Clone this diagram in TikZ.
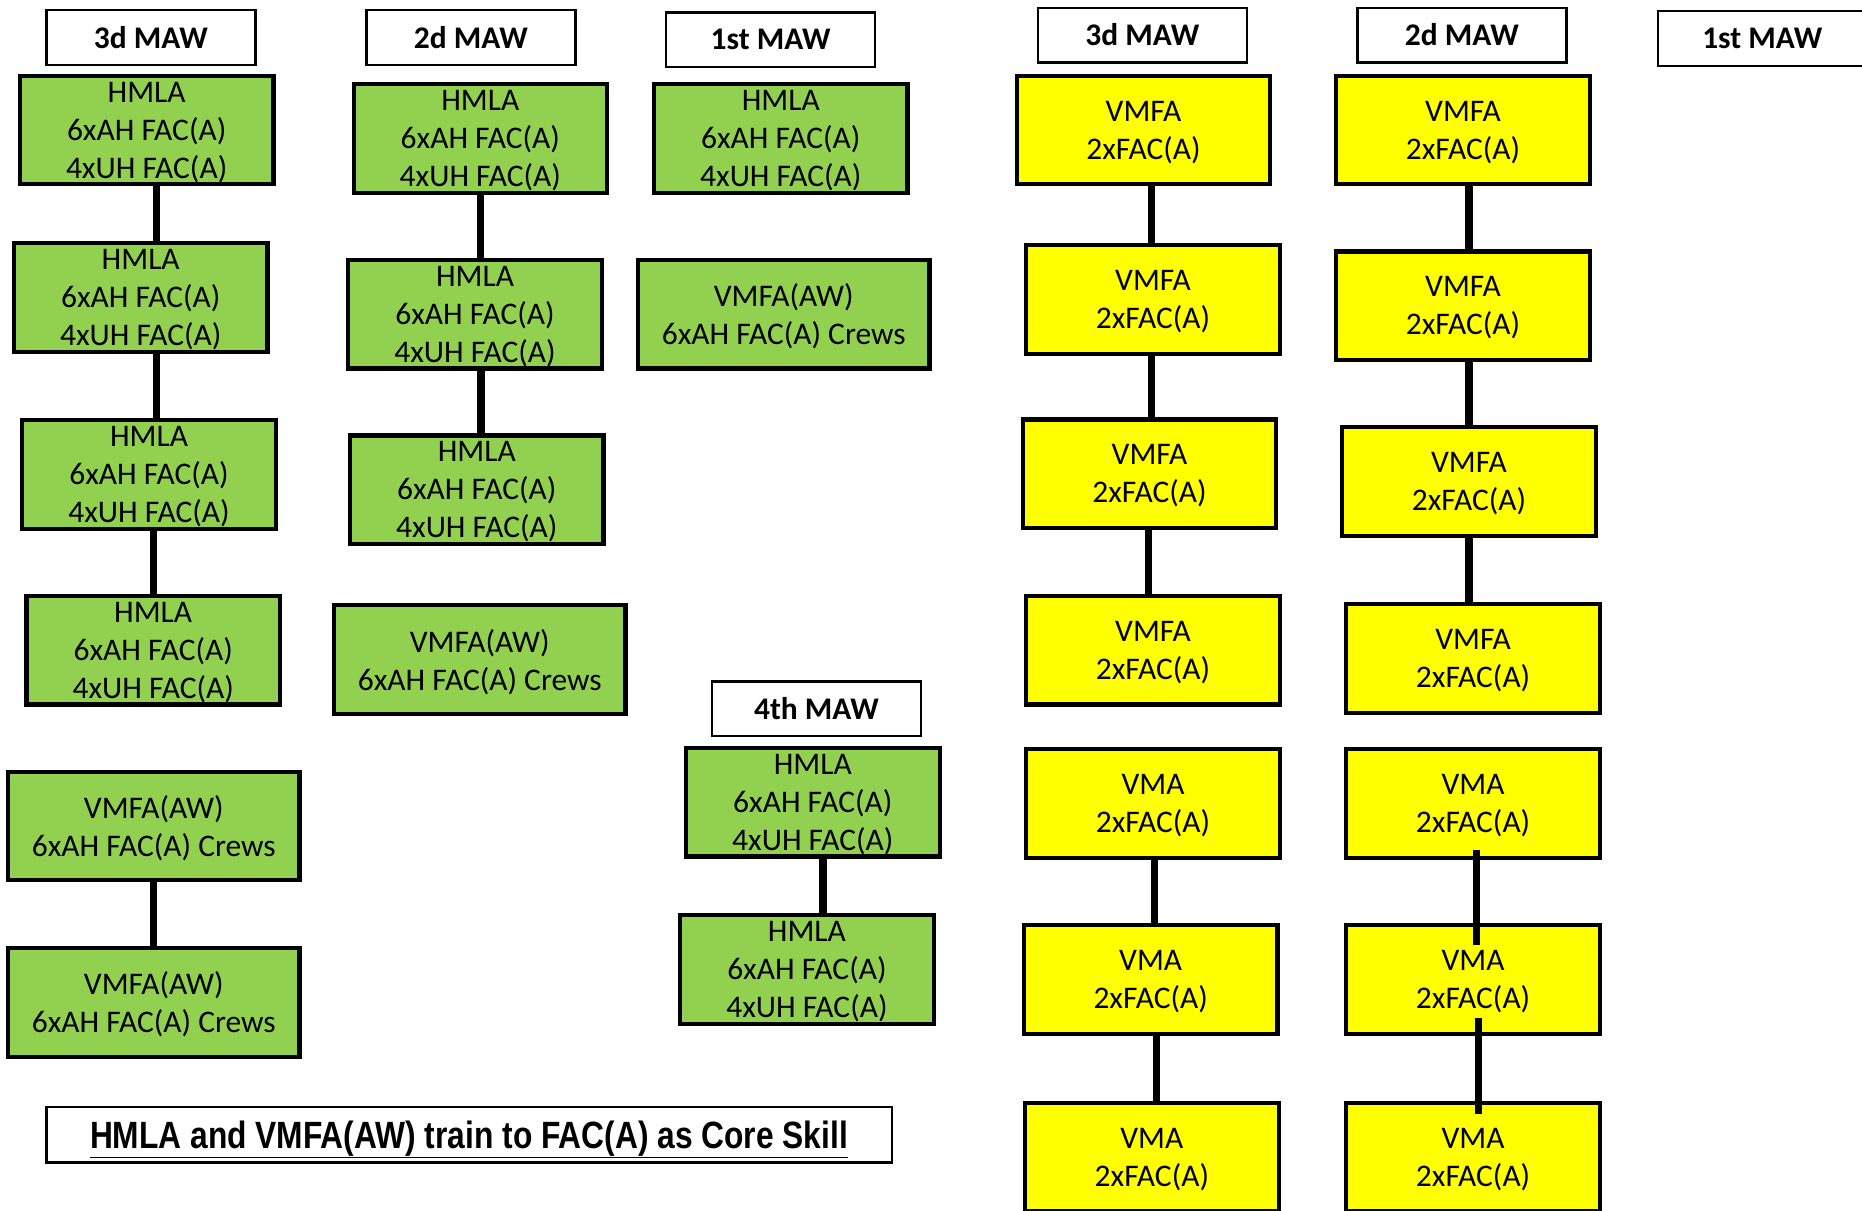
\documentclass[tikz,border=0pt]{standalone}
\usepackage{fontspec}
\setmainfont{Carlito}
\newfontfamily\captionfont{Liberation Sans}
\usepackage{graphicx}
\usetikzlibrary{positioning}
\definecolor{hmlagreen}{RGB}{146,208,80}
\definecolor{jetyellow}{RGB}{255,255,0}

\begin{document}
\begin{tikzpicture}[x=1pt, y=-1pt,
  sqbox/.style={draw, line width=3.5pt, minimum width=213.5pt, minimum height=91.5pt, inner sep=0pt, align=center,
    font=\fontsize{26.5}{32}\selectfont, text depth=0pt},
  hmla/.style={sqbox, fill=hmlagreen},
  awbox/.style={hmla, minimum width=245.5pt},
  jet/.style={sqbox, fill=jetyellow},
  maw/.style={draw, line width=2pt, fill=white, minimum width=176pt, minimum height=46pt, inner sep=0pt, font=\bfseries\fontsize{26.5}{32}\selectfont},
  link/.style={line width=6pt}
]
\useasboundingbox (0,0) rectangle (1568,1019);

% helicopter and hornet wings
\node[maw] (h3d) at (127,31.5) {3d MAW};
\node[hmla] (a1) at (123.5,109.5) {HMLA\\6xAH FAC(A)\\4xUH FAC(A)};
\node[hmla] (a2) at (118.5,250.5) {HMLA\\6xAH FAC(A)\\4xUH FAC(A)};
\node[hmla] (a3) at (125.5,399.5) {HMLA\\6xAH FAC(A)\\4xUH FAC(A)};
\node[hmla] (a4) at (129,547.5) {HMLA\\6xAH FAC(A)\\4xUH FAC(A)};
\node[awbox] (a5) at (129.5,695.5) {VMFA(AW)\\6xAH FAC(A) Crews};
\node[awbox] (a6) at (129.5,844) {VMFA(AW)\\6xAH FAC(A) Crews};

\node[maw] (h2d) at (396.5,31.5) {2d MAW};
\node[hmla] (b1) at (404.5,116.5) {HMLA\\6xAH FAC(A)\\4xUH FAC(A)};
\node[hmla] (b2) at (400,264.5) {HMLA\\6xAH FAC(A)\\4xUH FAC(A)};
\node[hmla] (b3) at (401.5,412.5) {HMLA\\6xAH FAC(A)\\4xUH FAC(A)};
\node[awbox] (b4) at (404,555.5) {VMFA(AW)\\6xAH FAC(A) Crews};

\node[maw] (h1st) at (649,33.5) {1st MAW};
\node[hmla] (c1) at (657.5,116.5) {HMLA\\6xAH FAC(A)\\4xUH FAC(A)};
\node[awbox] (c2) at (660,264.5) {VMFA(AW)\\6xAH FAC(A) Crews};

\node[maw] (h4th) at (687.5,597) {4th MAW};
\node[hmla] (d1) at (684.5,675.5) {HMLA\\6xAH FAC(A)\\4xUH FAC(A)};
\node[hmla] (d2) at (679.5,816.5) {HMLA\\6xAH FAC(A)\\4xUH FAC(A)};

\draw[link] ([xshift=8.5pt]a1.south) -- ([xshift=8.5pt]a1.south |- a2.north);
\draw[link] ([xshift=13.5pt]a2.south) -- ([xshift=13.5pt]a2.south |- a3.north);
\draw[link] ([xshift=3.5pt]a3.south) -- ([xshift=3.5pt]a3.south |- a4.north);
\draw[link] (a5.south) -- (a5.south |- a6.north);
\draw[link] (b1.south) -- (b1.south |- b2.north);
\draw[link] ([xshift=5pt]b2.south) -- ([xshift=5pt]b2.south |- b3.north);
\draw[link] ([xshift=8.5pt]d1.south) -- ([xshift=8.5pt]d1.south |- d2.north);

% jet wings
\node[maw] (j3d) at (962,29.5) {3d MAW};
\node[jet] (e1) at (963,109.5) {VMFA\\2xFAC(A)};
\node[jet] (e2) at (971,252) {VMFA\\2xFAC(A)};
\node[jet] (e3) at (968,399) {VMFA\\2xFAC(A)};
\node[jet] (e4) at (971,547.5) {VMFA\\2xFAC(A)};
\node[jet] (e5) at (971,676.5) {VMA\\2xFAC(A)};
\node[jet] (e6) at (969,825) {VMA\\2xFAC(A)};
\node[jet] (e7) at (970,974.5) {VMA\\2xFAC(A)};

\node[maw] (j2d) at (1231,29.5) {2d MAW};
\node[jet] (f1) at (1232,109.5) {VMFA\\2xFAC(A)};
\node[jet] (f2) at (1232,257.5) {VMFA\\2xFAC(A)};
\node[jet] (f3) at (1237,405.5) {VMFA\\2xFAC(A)};
\node[jet] (f4) at (1240.5,554.5) {VMFA\\2xFAC(A)};
\node[jet] (f5) at (1240.5,676.5) {VMA\\2xFAC(A)};
\node[jet] (f6) at (1240.5,825) {VMA\\2xFAC(A)};
\node[jet] (f7) at (1240.5,974.5) {VMA\\2xFAC(A)};

\node[maw] (j1st) at (1484,32.5) {1st MAW};

\draw[link] ([xshift=7pt]e1.south) -- ([xshift=7pt]e1.south |- e2.north);
\draw[link] ([xshift=-1pt]e2.south) -- ([xshift=-1pt]e2.south |- e3.north);
\draw[link] ([xshift=-1pt]e3.south) -- ([xshift=-1pt]e3.south |- e4.north);
\draw[link] ([xshift=1pt]e5.south) -- ([xshift=1pt]e5.south |- e6.north);
\draw[link] ([xshift=5pt]e6.south) -- ([xshift=5pt]e6.south |- e7.north);
\draw[link] ([xshift=5pt]f1.south) -- ([xshift=5pt]f1.south |- f2.north);
\draw[link] ([xshift=5pt]f2.south) -- ([xshift=5pt]f2.south |- f3.north);
\draw[link] (f3.south) -- (f3.south |- f4.north);
\draw[link] ([xshift=2.5pt,yshift=8pt]f5.south) -- ([xshift=2.5pt,yshift=-18pt]f5.south |- f6.north);
\draw[link] ([xshift=4.5pt,yshift=15pt]f6.south) -- ([xshift=4.5pt,yshift=-11pt]f6.south |- f7.north);

\node[draw, line width=2pt, minimum width=712pt, minimum height=47pt, inner sep=0pt] (core) at (395,955.5)
  {\captionfont\bfseries\fontsize{32}{36}\selectfont\raisebox{-4pt}[\height][\depth]{\scalebox{0.835}[1]{\underline{HMLA and VMFA(AW) train to FAC(A) as Core Skill}}}};
\end{tikzpicture}
\end{document}
